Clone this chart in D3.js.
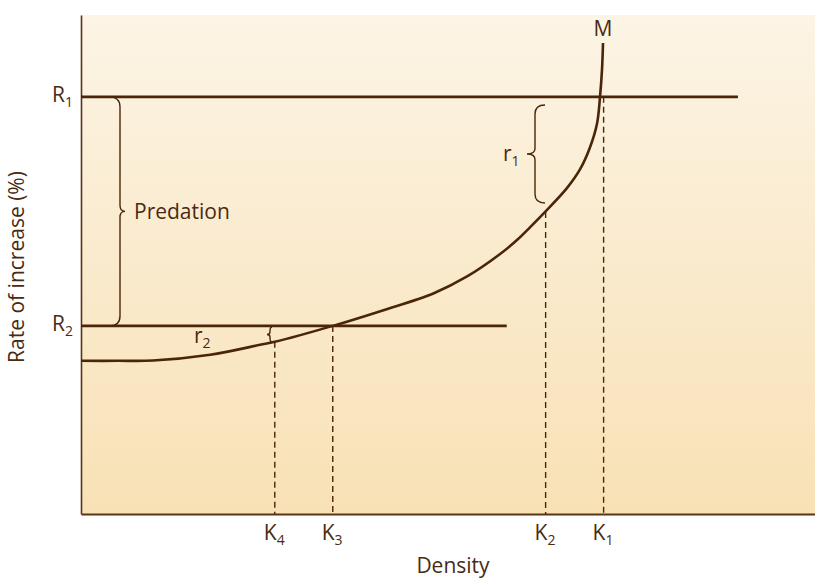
<!DOCTYPE html>
<html>
<head>
<meta charset="utf-8">
<script src="https://cdn.jsdelivr.net/npm/d3@7"></script>
<style>
  html, body { margin: 0; padding: 0; background: #fff; }
  svg { display: block; }
  text { font-family: "Open Sans", "Noto Sans", sans-serif; fill: #4a2a12; }
</style>
</head>
<body>
<svg id="chart" width="815" height="579"></svg>
<script>
// ---- data (density units 0..10, rate units 0..10) ----
const curveDensity = [0, 0.5, 0.98, 1.76, 2.44, 2.64, 3.43, 4.11, 4.80, 5.26, 5.71, 5.94, 6.12, 6.32, 6.62, 6.80, 6.93, 7.030, 7.071, 7.098, 7.112];
const curveRate    = [3.07, 3.07, 3.075, 3.19, 3.39, 3.45, 3.77, 4.08, 4.42, 4.76, 5.21, 5.49, 5.75, 6.05, 6.53, 6.91, 7.33, 7.82, 8.36, 8.90, 9.44];
const levelNames   = ["R1", "R2"];
const levelRates   = [8.36, 3.77];
const levelEnds    = [8.95, 5.80];
const kNames       = ["K4", "K3", "K2", "K1"];
const kDensity     = [2.64, 3.43, 6.33, 7.12];
const kTopRate     = [3.45, 3.77, 6.05, 8.36];

const W = 815, H = 579;
const m = { left: 81, right: 0, top: 15, bottom: 65 };
const x = d3.scaleLinear().domain([0, 10]).range([m.left, m.left + 734]);
const y = d3.scaleLinear().domain([0, 10]).range([H - m.bottom, H - m.bottom - 499]);

const svg = d3.select("#chart");
const ink = "#4a2508";

// background gradient
const defs = svg.append("defs");
const grad = defs.append("linearGradient").attr("id", "bg").attr("x1", 0).attr("y1", 0).attr("x2", 0).attr("y2", 1);
grad.append("stop").attr("offset", "0%").attr("stop-color", "#fcf4e5");
grad.append("stop").attr("offset", "100%").attr("stop-color", "#f8e1b5");
svg.append("rect").attr("x", x(0)).attr("y", y(10)).attr("width", x(10) - x(0)).attr("height", y(0) - y(10)).attr("fill", "url(#bg)");

// axes
const xAxis = d3.axisBottom(x).tickValues([]).tickSize(0).tickSizeOuter(0);
const yAxis = d3.axisLeft(y).tickValues([]).tickSize(0).tickSizeOuter(0);
svg.append("g").attr("transform", `translate(0,${y(0)})`).call(xAxis)
  .select(".domain").attr("stroke", "#5a3414").attr("stroke-width", 2);
svg.append("g").attr("transform", `translate(${x(0)},0)`).call(yAxis)
  .select(".domain").attr("stroke", "#5a3414").attr("stroke-width", 1.6);

// dashed verticals
kDensity.forEach((d, i) => {
  svg.append("line")
    .attr("x1", x(d)).attr("x2", x(d))
    .attr("y1", y(kTopRate[i])).attr("y2", y(0))
    .attr("stroke", ink).attr("stroke-width", 1.4)
    .attr("stroke-dasharray", "6,4");
});

// horizontal levels
levelRates.forEach((r, i) => {
  svg.append("line")
    .attr("x1", x(0)).attr("x2", x(levelEnds[i]))
    .attr("y1", y(r)).attr("y2", y(r))
    .attr("stroke", ink).attr("stroke-width", 2.6);
});

// main curve
const pts = curveDensity.map((d, i) => [d, curveRate[i]]);
svg.append("path")
  .attr("d", d3.line().x(p => x(p[0])).y(p => y(p[1])).curve(d3.curveCatmullRom.alpha(0.5))(pts))
  .attr("fill", "none").attr("stroke", ink).attr("stroke-width", 2.6);

// brace helper (vertical brace)
function brace(xv, y1, y2, dir, tipLen, pointLen, r) {
  const ym = (y1 + y2) / 2;
  const tipX = xv - dir * tipLen;
  const pX = xv + dir * pointLen;
  return `M${tipX},${y1} Q${xv},${y1} ${xv},${y1 + r} L${xv},${ym - r * 0.6} Q${xv},${ym} ${pX},${ym}` +
         ` Q${xv},${ym} ${xv},${ym + r * 0.6} L${xv},${y2 - r} Q${xv},${y2} ${tipX},${y2}`;
}
const braceStyle = s => s.attr("fill", "none").attr("stroke", ink).attr("stroke-width", 1.4);

const FS = 21, SUB = 14;

// Predation brace
svg.append("path").attr("d", brace(120, y(levelRates[0]), y(levelRates[1]), 1, 11, 5, 10)).call(braceStyle);
svg.append("text").attr("x", 134).attr("y", (y(levelRates[0]) + y(levelRates[1])) / 2 + 8)
  .attr("font-size", FS).text("Predation");

// r1 brace
svg.append("path").attr("d", brace(535, 105, 203, -1, 10, 8, 9)).call(braceStyle);
const r1 = svg.append("text").attr("x", 503).attr("y", 161).attr("font-size", FS);
r1.append("tspan").text("r");
r1.append("tspan").attr("font-size", SUB).attr("dy", 5).text("1");

// r2 brace
svg.append("path").attr("d", brace(270, 327, 342, -1, 2, 3, 4)).call(braceStyle);
const r2 = svg.append("text").attr("x", 194).attr("y", 343).attr("font-size", FS);
r2.append("tspan").text("r");
r2.append("tspan").attr("font-size", SUB).attr("dy", 5).text("2");

// M label
svg.append("text").attr("x", x(7.11)).attr("y", 36).attr("text-anchor", "middle")
  .attr("font-size", FS).text("M");

// level labels
levelNames.forEach((n, i) => {
  const t = svg.append("text").attr("x", 52).attr("y", y(levelRates[i]) + 5).attr("font-size", FS);
  t.append("tspan").text(n[0]);
  t.append("tspan").attr("font-size", SUB).attr("dy", 5).text(n.slice(1));
});

// K labels
kNames.forEach((n, i) => {
  const t = svg.append("text").attr("x", x(kDensity[i]) - 11).attr("y", 540).attr("font-size", FS);
  t.append("tspan").text(n[0]);
  t.append("tspan").attr("font-size", SUB).attr("dy", 5).text(n.slice(1));
});

// axis titles
svg.append("text").attr("x", 453).attr("y", 573).attr("text-anchor", "middle")
  .attr("font-size", FS).text("Density");
svg.append("text").attr("transform", `translate(24,267) rotate(-90)`).attr("text-anchor", "middle")
  .attr("font-size", FS).text("Rate of increase (%)");
</script>
</body>
</html>
